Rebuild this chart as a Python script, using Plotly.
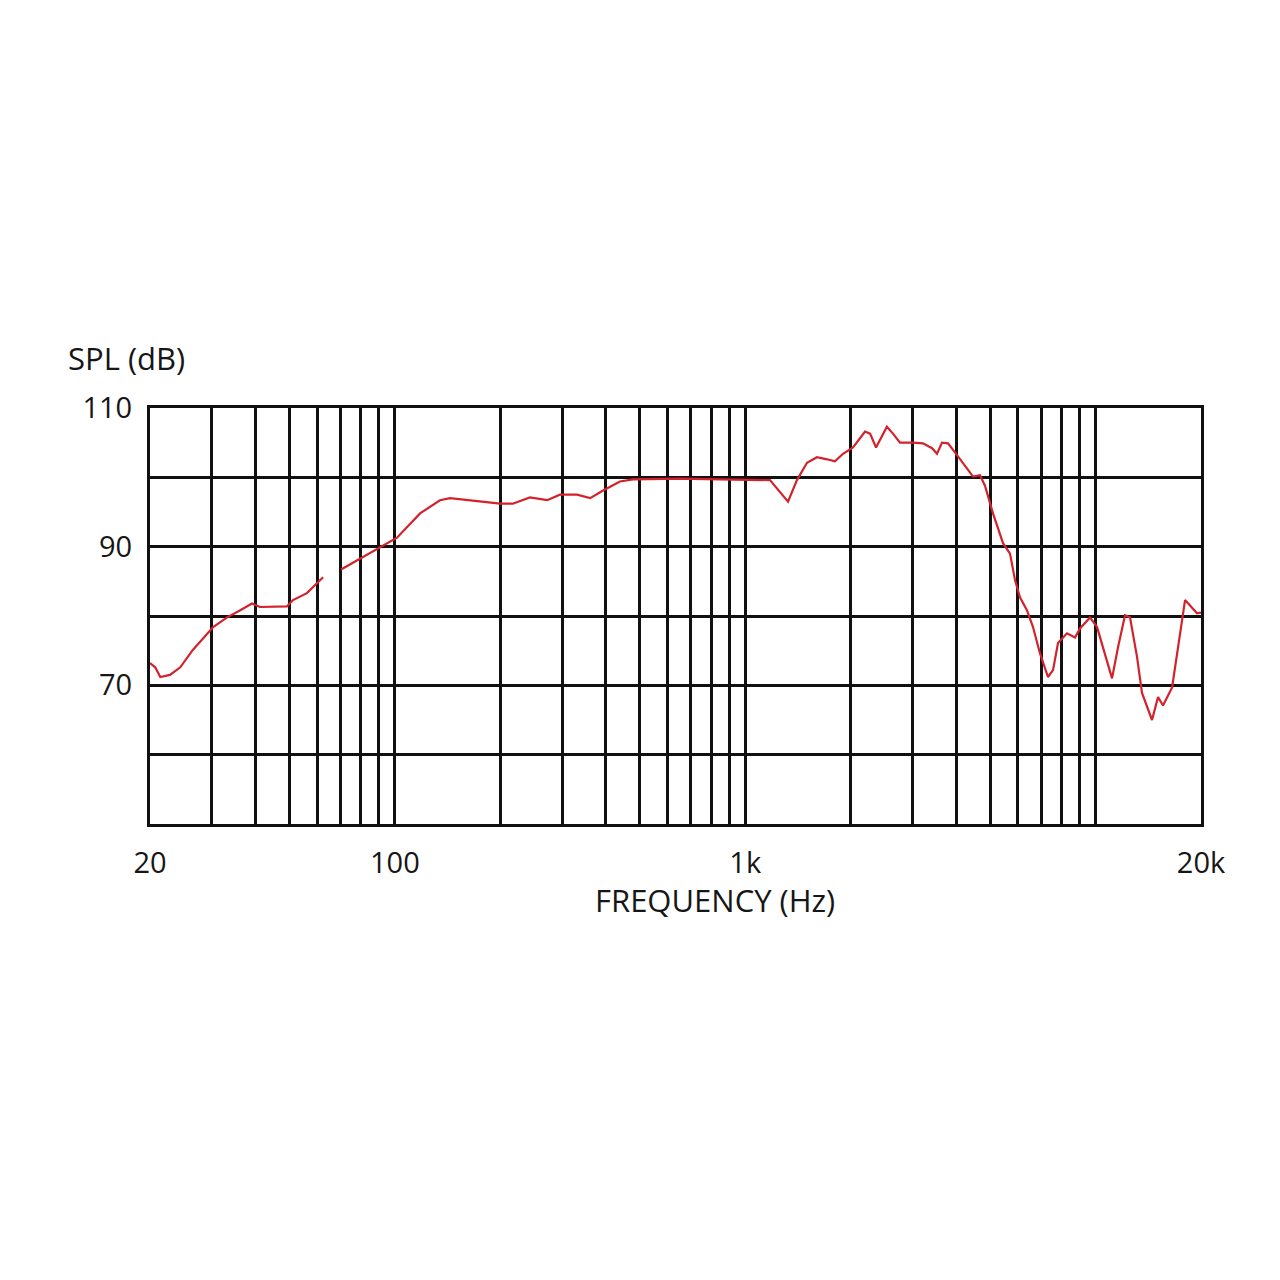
import plotly.graph_objects as go

# Frequency response data
freq_hz = [20, 20.7, 21.4, 22.8, 24.4, 26.5, 30.3, 33.2, 36.1, 39.1,
           41.2, 44.0, 49.2, 51.2, 56.1, 62.4, 65.7, 70.2, 78.0, 90.7,
           101.4, 118, 134.5, 143.7, 199.6, 217, 243, 272, 296, 331,
           361, 393, 439, 478, 652, 847, 1177, 1325, 1405, 1501,
           1603, 1712, 1804, 1902, 2031, 2198, 2272, 2363, 2538, 2641,
           2766, 3012, 3217, 3415, 3528, 3645, 3793, 4024, 4297, 4470,
           4679, 4836, 5097, 5444, 5700, 5890, 6086, 6374, 6630, 6942,
           7316, 7562, 7814, 8290, 8738, 9030, 9643, 10100, 11144, 11593,
           12138, 12543, 13134, 13571, 14494, 15080, 15582, 16540, 18010, 19486,
           20000]
spl_db = [73.2, 72.6, 71.2, 71.5, 72.6, 75.1, 78.4, 79.8, 80.8, 81.8,
          81.3, 81.3, 81.4, 82.3, 83.3, 85.6, None, 86.7, 88.0, 89.8,
          91.3, 94.8, 96.7, 97.0, 96.2, 96.2, 97.1, 96.7, 97.5, 97.5,
          97.0, 98.1, 99.4, 99.7, 99.8, 99.7, 99.6, 96.5, 99.6, 102.1,
          102.9, 102.6, 102.3, 103.4, 104.3, 106.6, 106.3, 104.3, 107.3, 106.3,
          105.0, 105.0, 104.9, 104.2, 103.4, 105.0, 104.9, 103.2, 101.3, 100.1,
          100.3, 98.8, 94.8, 90.5, 89.0, 85.2, 82.7, 80.8, 78.4, 74.6,
          71.2, 72.2, 76.1, 77.5, 76.9, 78.2, 79.8, 78.4, 71.0, 75.5,
          80.1, 79.8, 74.1, 68.9, 65.0, 68.3, 67.1, 69.7, 82.3, 80.4,
          80.5]

# Axis grid / tick definitions
x_grid_vals = [20, 30, 40, 50, 60, 70, 80, 90, 100,
               200, 300, 400, 500, 600, 700, 800, 900, 1000,
               2000, 3000, 4000, 5000, 6000, 7000, 8000, 9000, 10000, 20000]
x_tick_labels = {20: "20", 100: "100", 1000: "1k", 20000: "20k"}
y_grid_vals = [50, 60, 70, 80, 90, 100, 110]
y_tick_labels = {110: "110", 90: "90", 70: "70"}

FONT = "Open Sans, Liberation Sans, sans-serif"
TXT = "#161616"

fig = go.Figure()
fig.add_trace(go.Scatter(
    x=freq_hz, y=spl_db, mode="lines",
    line=dict(color="#d3222c", width=2.2),
    connectgaps=False, showlegend=False, hoverinfo="x+y"))

fig.update_xaxes(
    type="log", range=[1.30103, 4.30103],
    tickmode="array", tickvals=x_grid_vals,
    ticktext=[x_tick_labels.get(v, "") for v in x_grid_vals],
    showgrid=True, gridcolor="#111111", gridwidth=2.5,
    showline=True, linecolor="#111111", linewidth=3, mirror=True,
    ticks="", ticklabelstandoff=11,
    tickfont=dict(family=FONT, size=29, color=TXT),
    zeroline=False)
fig.update_yaxes(
    range=[50, 110],
    tickmode="array", tickvals=y_grid_vals,
    ticktext=[y_tick_labels.get(v, "") for v in y_grid_vals],
    showgrid=True, gridcolor="#111111", gridwidth=2.5,
    showline=True, linecolor="#111111", linewidth=3, mirror=True,
    ticks="", ticklabelstandoff=9,
    tickfont=dict(family=FONT, size=29, color=TXT),
    zeroline=False)

fig.add_annotation(text="SPL (dB)", xref="paper", yref="paper",
                   x=-0.08, y=1.12, xanchor="left", yanchor="middle",
                   showarrow=False,
                   font=dict(family=FONT, size=31, color=TXT))
fig.add_annotation(text="FREQUENCY (Hz)", xref="paper", yref="paper",
                   x=0.538, y=-0.183, xanchor="center", yanchor="middle",
                   showarrow=False,
                   font=dict(family=FONT, size=31, color=TXT))

fig.update_layout(
    width=1280, height=1280,
    margin=dict(l=142, r=87, t=400, b=464),
    paper_bgcolor="white", plot_bgcolor="white",
    showlegend=False)

fig.write_html("out.html")
